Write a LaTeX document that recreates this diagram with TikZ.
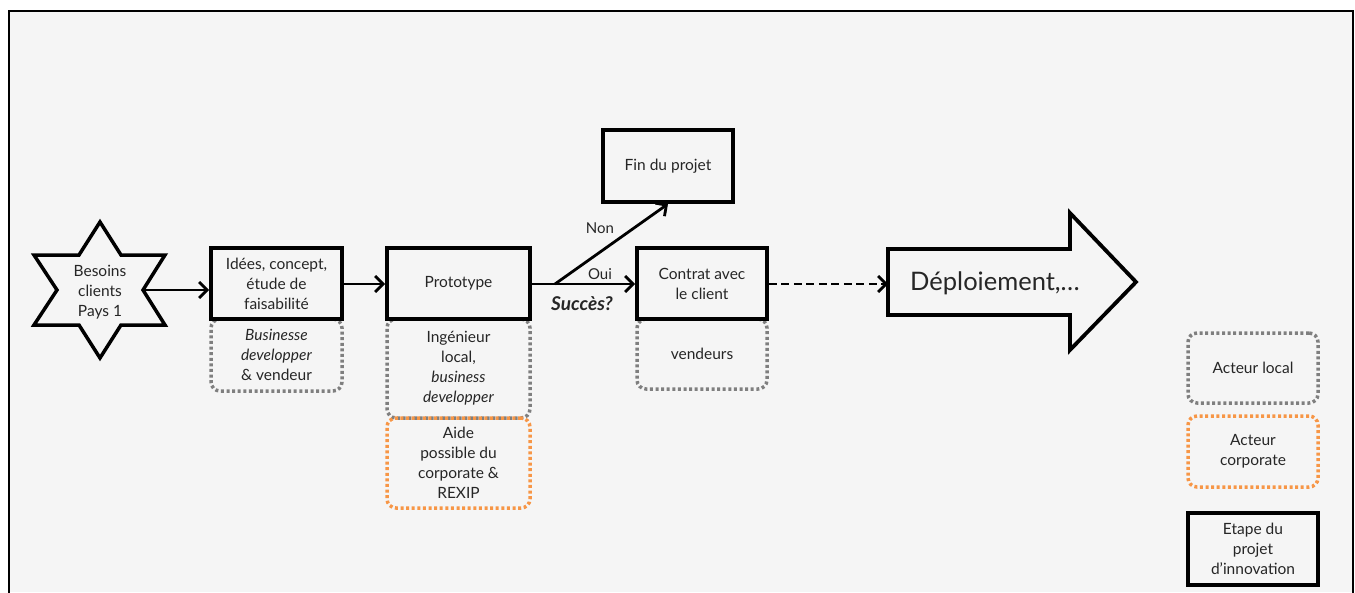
\documentclass[tikz,border=0pt]{standalone}
\usepackage{fontspec}
\setmainfont{Lato}
\usetikzlibrary{arrows.meta}
\definecolor{bgc}{HTML}{F5F5F5}
\definecolor{locg}{HTML}{7F7F7F}
\definecolor{corpo}{HTML}{F79646}
\definecolor{txt}{HTML}{262626}
\begin{document}
\begin{tikzpicture}[x=1pt,y=-1pt,
  every node/.style={font=\fontsize{15.5}{20}\selectfont, text=txt, align=center, inner sep=0pt},
  stepbox/.style={draw=black, line width=3.8pt, rectangle, minimum width=131pt, minimum height=71pt},
  localbox/.style={draw=locg, line width=3.5pt, dash pattern=on 3pt off 2.6pt, rounded corners=9pt, rectangle, minimum width=131pt},
  corpbox/.style={localbox, draw=corpo},
  arr/.style={line width=2.8pt, -{Straight Barb[length=8pt,width=16pt,line width=2.8pt]}},
  lbl/.style={font=\fontsize{15}{18}\selectfont}
]
\useasboundingbox (0,0) rectangle (1355,592);
\fill[white] (0,0) rectangle (1355,592);
\fill[bgc] (9,11) rectangle (1353,592);
\draw[line width=2pt] (9,595) -- (9,11) -- (1353,11) -- (1353,595);

% star
\draw[line width=3.5pt, line join=miter, fill=bgc]
  (100,222) -- (121,255) -- (165,255) -- (143,290) -- (165,325) -- (121,325)
  -- (100,358) -- (79,325) -- (34,325) -- (57,290) -- (34,255) -- (79,255) -- cycle;
\coordinate (starR) at (143,290);
\node (besoins) at (100,292) {Besoins\\clients\\Pays 1};

% dotted actor boxes
\node[localbox, minimum height=72pt] (busdev) at (276.5,355) {\textit{Businesse}\\\textit{developper}\\\& vendeur};
\node[localbox, minimum width=143pt, minimum height=99pt] (ingen) at (458.5,368.5) {Ingénieur\\local,\\\textit{business}\\\textit{developper}};
\node[corpbox, minimum width=143pt, minimum height=90pt] (aide) at (458.5,463) {Aide\\possible du\\corporate \&\\REXIP};
\node[localbox, minimum width=130pt, minimum height=70pt] (vendeurs) at (702,354) {vendeurs};

% step boxes
\node[stepbox] (idees) at (276.5,283.5) {Idées, concept,\\étude de\\faisabilité};
\node[stepbox, minimum width=143pt] (proto) at (458.5,283.5) {Prototype};
\node[stepbox, minimum width=130pt, minimum height=72pt] (fin) at (668,166) {Fin du projet};
\node[stepbox, minimum width=130pt] (contrat) at (702,283.5) {Contrat avec\\le client};

% deploiement arrow
\draw[line width=3.8pt, line join=miter]
  (888,249) -- (1070,249) -- (1070,213) -- (1136,282) -- (1070,350) -- (1070,315) -- (888,315) -- cycle;
\coordinate (deployL) at (888,284);
\node[font=\fontsize{25.5}{30}\selectfont] (deploy) at (995,283) {Déploiement,…};

% legend
\node[localbox, minimum width=130pt, minimum height=70pt] (leglocal) at (1253,368) {Acteur local};
\node[corpbox, minimum width=130pt, minimum height=71pt] (legcorp) at (1253,451.5) {Acteur\\corporate};
\node[stepbox, minimum width=130pt, minimum height=72pt] (legstep) at (1253,549) {Etape du\\projet\\d’innovation};

% connectors
\coordinate (split) at (555,284);
\draw[arr] (starR) -- (idees.west |- starR);
\draw[arr] (idees.east |- 0,284) -- (proto.west |- 0,284);
\draw[arr] (proto.east |- 0,284) -- (contrat.west |- 0,284);
\draw[arr] (split) -- (fin.south);
\draw[arr, dash pattern=on 8pt off 4.5pt] (contrat.east |- 0,284) -- (deployL);

\node[lbl] (non) at (600,228) {Non};
\node[lbl] (oui) at (600,274) {Oui};
\node[lbl, font=\fontsize{19}{22}\selectfont\bfseries\itshape] (succes) at (582,304) {Succès?};
\end{tikzpicture}
\end{document}
